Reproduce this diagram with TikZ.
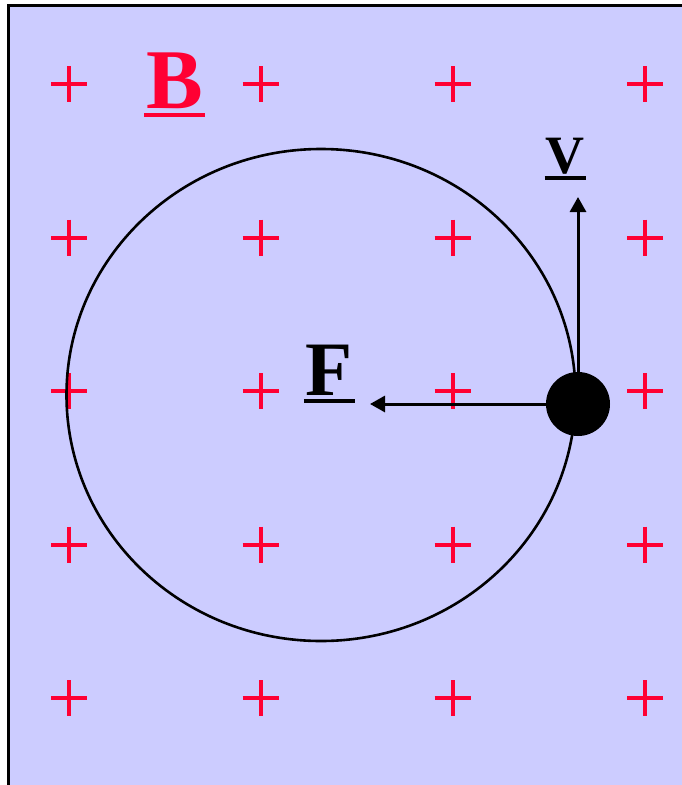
\documentclass[tikz,border=0pt]{standalone}
\usepackage{fontspec}
\setmainfont{Liberation Serif}
\usetikzlibrary{arrows.meta}
\definecolor{bgblue}{RGB}{204,204,255}
\definecolor{plusred}{RGB}{255,0,51}
\newcommand\ulbox[4]{\setbox0\hbox{#1}\leavevmode\rlap{\kern-#4\rule[-#2]{\dimexpr\wd0+#4+#4\relax}{#3}}\box0}
\tikzset{
  plussign/.style={draw=plusred, line width=4pt},
  vec/.style={line width=3pt, -{Triangle[length=15pt,width=16pt]}},
  lbl/.style={anchor=base, inner sep=0pt, font=\bfseries}
}
\begin{document}
\begin{tikzpicture}[x=1pt,y=-1pt]
\useasboundingbox (0,0) rectangle (682,785);
\fill[white] (0,0) rectangle (682,785);
\fill[bgblue] (8,5.5) rectangle (690,790);
\draw[line width=3pt] (8,795) -- (8,5.5) -- (690,5.5);
% plus signs
\foreach \x in {69,260.5,452.6,645}{
  \foreach \y in {84,237.5,391,544.5,698}{
    \draw[plussign] (\x-18,\y) -- (\x+18,\y) (\x,\y-18) -- (\x,\y+18);
  }
}
% orbit
\draw[line width=2.6pt] (321,395) ellipse [x radius=254.5, y radius=246];
% charge
\node[circle, fill=black, minimum size=64pt, inner sep=0pt] (ball) at (578,404) {};
\coordinate (vtip) at (578,197);
\coordinate (ftip) at (370,404);
\draw[vec] (ball) -- (vtip);
\draw[vec] (ball) -- (ftip);
% labels
\node[lbl, text=plusred, font=\fontsize{85}{85}\selectfont\bfseries] (B) at (174.5,108) {\ulbox{B}{9pt}{4pt}{2pt}};
\node[lbl, font=\fontsize{54}{54}\selectfont\bfseries] (V) at (565,173) {\ulbox{V}{7pt}{4.5pt}{1pt}};
\node[lbl, font=\fontsize{77}{77}\selectfont\bfseries] (F) at (329.5,395) {\ulbox{F}{8pt}{4pt}{2pt}};
\end{tikzpicture}
\end{document}
